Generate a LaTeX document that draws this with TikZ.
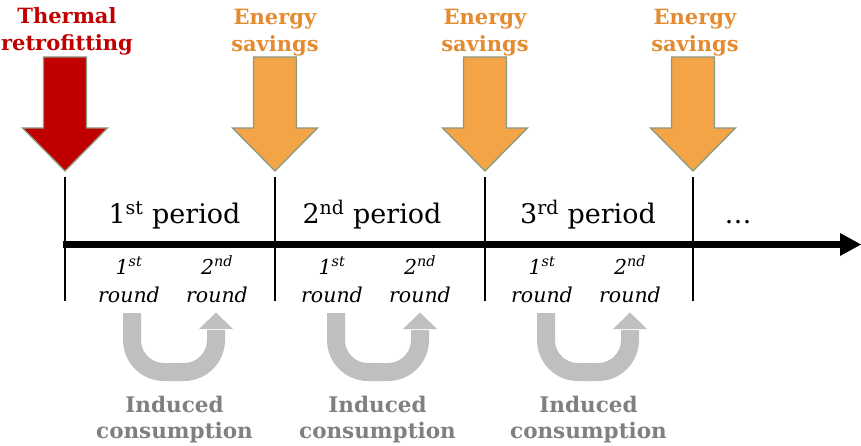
\documentclass[tikz,border=0pt]{standalone}
\usepackage{fontspec}
\setmainfont{DejaVu Serif}
\definecolor{retrored}{HTML}{C00000}
\definecolor{saveorange}{HTML}{F2A447}
\definecolor{savetext}{HTML}{E38B2E}
\definecolor{outl}{HTML}{8C9A80}
\definecolor{ugray}{HTML}{BFBFBF}
\definecolor{itext}{HTML}{808080}
\tikzset{
  bigarr/.pic={\path[pic actions] (-21.5,0) -- (21.5,0) -- (21.5,71) -- (42.5,71) -- (0,114) -- (-42.5,71) -- (-21.5,71) -- cycle;},
  uarr/.pic={
    \draw[ugray, line width=18pt, rounded corners=32pt] (-42,0) -- (-42,59) -- (42,59) -- (42,17);
    \fill[ugray] (25,16) -- (59,16) -- (42,-0.5) -- cycle;},
  toplabel/.style={font=\fontsize{21}{27}\selectfont\bfseries, align=center, anchor=base, inner sep=0pt},
  perlabel/.style={font=\fontsize{27}{32}\selectfont, anchor=base, inner sep=0pt},
  rndlabel/.style={font=\fontsize{20.5}{28}\selectfont\itshape, align=center, anchor=base, inner sep=0pt},
  indlabel/.style={font=\fontsize{21.5}{26}\selectfont\bfseries, text=itext, align=center, anchor=base, inner sep=0pt},
  tick/.style={line width=2pt},
  axis/.style={line width=7pt},
}
\begin{document}
\begin{tikzpicture}[x=1pt,y=-1pt]
\useasboundingbox (0,0) rectangle (861,446);
% top labels (anchor = baseline of last line)
\node[toplabel, text=retrored] (lab0) at (67,51) {Thermal\\retrofitting};
\node[toplabel, text=savetext] (lab1) at (275,52) {Energy\\savings};
\node[toplabel, text=savetext] (lab2) at (485,52) {Energy\\savings};
\node[toplabel, text=savetext] (lab3) at (695,52) {Energy\\savings};
% big arrows
\pic[fill=retrored, draw=outl, line width=1.3pt] at (65,57) {bigarr};
\pic[fill=saveorange, draw=outl, line width=1.3pt] at (275,57) {bigarr};
\pic[fill=saveorange, draw=outl, line width=1.3pt] at (485,57) {bigarr};
\pic[fill=saveorange, draw=outl, line width=1.3pt] at (693,57) {bigarr};
% ticks
\coordinate (t0a) at (65,177); \coordinate (t0b) at (65,301);
\coordinate (t1a) at (275,177); \coordinate (t1b) at (275,301);
\coordinate (t2a) at (485,177); \coordinate (t2b) at (485,301);
\coordinate (t3a) at (693,177); \coordinate (t3b) at (693,301);
\draw[tick] (t0a) -- (t0b);
\draw[tick] (t1a) -- (t1b);
\draw[tick] (t2a) -- (t2b);
\draw[tick] (t3a) -- (t3b);
% axis
\coordinate (ax0) at (63,244.5);
\coordinate (ax1) at (840,244.5);
\coordinate (axt) at (861,244.5);
\draw[axis] (ax0) -- (ax1);
\fill (840,233) -- (axt) -- (840,256) -- cycle;
% period labels
\node[perlabel] (p1) at (174.5,224) {1\textsuperscript{st} period};
\node[perlabel] (p2) at (372,224) {2\textsuperscript{nd} period};
\node[perlabel] (p3) at (588,224) {3\textsuperscript{rd} period};
\node[perlabel] (p4) at (738,224) {\dots};
% rounds
\node[rndlabel] (r11) at (129,302) {1\textsuperscript{st}\\round};
\node[rndlabel] (r12) at (217,302) {2\textsuperscript{nd}\\round};
\node[rndlabel] (r21) at (332,302) {1\textsuperscript{st}\\round};
\node[rndlabel] (r22) at (420,302) {2\textsuperscript{nd}\\round};
\node[rndlabel] (r31) at (542,302) {1\textsuperscript{st}\\round};
\node[rndlabel] (r32) at (630,302) {2\textsuperscript{nd}\\round};
% U arrows
\pic at (174,313) {uarr};
\pic at (378,313) {uarr};
\pic at (588,313) {uarr};
% induced labels
\node[indlabel] (i1) at (174.5,438) {Induced\\consumption};
\node[indlabel] (i2) at (377.5,438) {Induced\\consumption};
\node[indlabel] (i3) at (588.5,438) {Induced\\consumption};
\end{tikzpicture}
\end{document}
